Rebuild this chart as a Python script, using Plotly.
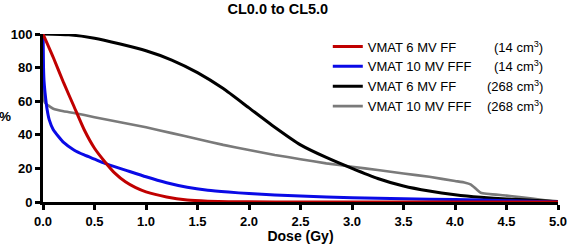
import plotly.graph_objects as go

# Dose (Gy) and volume (%)
red_dose = [0, 0.1, 0.2, 0.3, 0.4, 0.5, 0.6, 0.7, 0.8, 0.9, 1.0, 1.2, 1.4, 1.6, 1.8, 2.0, 2.5, 3.0, 4.0, 5.0]
red_vol = [100, 86, 71, 57, 43, 32, 24, 17, 12, 8.5, 6, 3, 1.2, 0.5, 0.2, 0.1, 0, 0, 0, 0]

blue_dose = [0, 0.005, 0.01, 0.02, 0.04, 0.06, 0.1, 0.15, 0.2, 0.3, 0.4, 0.5, 0.6, 0.8, 1.0, 1.2, 1.4,
             1.6, 1.8, 2.0, 2.25, 2.5, 3.0, 3.5, 4.0, 4.5, 5.0]
blue_vol = [100, 80, 72, 65, 55, 49, 43, 39, 35.5, 31, 28, 25.5, 23, 19, 15, 11.5, 8.8,
            7, 5.9, 5.0, 4.2, 3.5, 2.5, 1.9, 1.5, 0.8, 0]

black_dose = [0, 0.25, 0.5, 0.75, 1.0, 1.25, 1.5, 1.75, 2.0, 2.25, 2.5, 2.75, 3.0, 3.25, 3.5, 3.75,
              4.0, 4.25, 4.5, 4.75, 5.0]
black_vol = [100, 99.5, 97.5, 94, 90, 84.5, 77, 67.5, 56, 44.5, 34, 26.5, 20, 14, 9.5, 6.5,
             4.3, 2.8, 1.8, 1.1, 0.3]

gray_dose = [0, 0.005, 0.02, 0.05, 0.1, 0.2, 0.3, 0.5, 0.75, 1.0, 1.25, 1.5, 1.75, 2.0, 2.25, 2.5,
             2.75, 3.0, 3.25, 3.5, 3.75, 4.0, 4.1, 4.15, 4.2, 4.25, 4.5, 4.75, 5.0]
gray_vol = [100, 63, 59, 57.5, 55.5, 54, 53, 50.5, 47.5, 44.5, 41, 37.5, 34, 31, 28, 25.5,
            23, 21, 19, 17, 15, 12.5, 11.5, 10.5, 8, 5.5, 3.8, 2, 0]

series_names = ["VMAT 6 MV FF", "VMAT 10 MV FFF", "VMAT 6 MV FF", "VMAT 10 MV FFF"]
series_volumes = ["(14 cm<sup>3</sup>)", "(14 cm<sup>3</sup>)", "(268 cm<sup>3</sup>)", "(268 cm<sup>3</sup>)"]
x_ticks = [0, 0.5, 1.0, 1.5, 2.0, 2.5, 3.0, 3.5, 4.0, 4.5, 5.0]
y_ticks = [0, 20, 40, 60, 80, 100]

FONT = "Arial, Liberation Sans, sans-serif"
colors = ["#c00000", "#0a0ae6", "#000000", "#7a7a7a"]
widths = [3, 3, 3, 2.6]
data = [(red_dose, red_vol), (blue_dose, blue_vol), (black_dose, black_vol), (gray_dose, gray_vol)]

fig = go.Figure()
for i in [3, 2, 1, 0]:
    xd, yd = data[i]
    fig.add_trace(go.Scatter(
        x=xd, y=yd, mode="lines", name=series_names[i],
        line=dict(color=colors[i], width=widths[i], shape="spline", smoothing=0.5),
        legendrank=i + 1,
    ))

fig.update_layout(
    width=567, height=244,
    margin=dict(l=43, r=9, t=34, b=42),
    paper_bgcolor="white", plot_bgcolor="white",
    font=dict(family=FONT, color="black", size=12),
    title=dict(text="<b>CL0.0 to CL5.0</b>", x=0.49, xanchor="center", y=0.965, yanchor="middle",
               font=dict(size=14.5, family=FONT)),
    showlegend=True,
    legend=dict(x=0.553, y=1.015, xanchor="left", yanchor="top", bgcolor="rgba(0,0,0,0)",
                font=dict(size=13, family=FONT), itemwidth=30, tracegroupgap=0,
                traceorder="normal"),
    xaxis=dict(range=[0, 5], tickvals=x_ticks, ticktext=[f"<b>{v:.1f}</b>" for v in x_ticks],
               showgrid=False, zeroline=False, showline=True, linecolor="black", linewidth=3,
               ticks="outside", ticklen=5, tickwidth=2.5, tickcolor="black", automargin=False,
               ticklabeloverflow="allow",
               tickfont=dict(size=13, family=FONT),
               title=dict(text="<b>Dose (Gy)</b>", font=dict(size=14, family=FONT), standoff=7)),
    yaxis=dict(range=[0, 100], tickvals=y_ticks, ticktext=[f"<b>{v}</b>" for v in y_ticks],
               showgrid=False, zeroline=False, showline=True, linecolor="black", linewidth=3,
               ticks="outside", ticklen=5, tickwidth=2.5, tickcolor="black", automargin=False,
               tickfont=dict(size=13, family=FONT)),
)

fig.add_annotation(text="<b>%</b>", xref="paper", yref="paper", x=-0.073, y=0.506,
                   showarrow=False, font=dict(size=13.5, family=FONT), xanchor="center", yanchor="middle")

row_y = [0.923, 0.807, 0.690, 0.574]
for txt, yy in zip(series_volumes, row_y):
    fig.add_annotation(text=txt, xref="paper", yref="paper", x=0.975, y=yy, xanchor="right",
                       yanchor="middle", showarrow=False, font=dict(size=13, family=FONT))

fig.write_html("out.html", config={"displayModeBar": False},
               post_script="document.body.style.margin='0';")
